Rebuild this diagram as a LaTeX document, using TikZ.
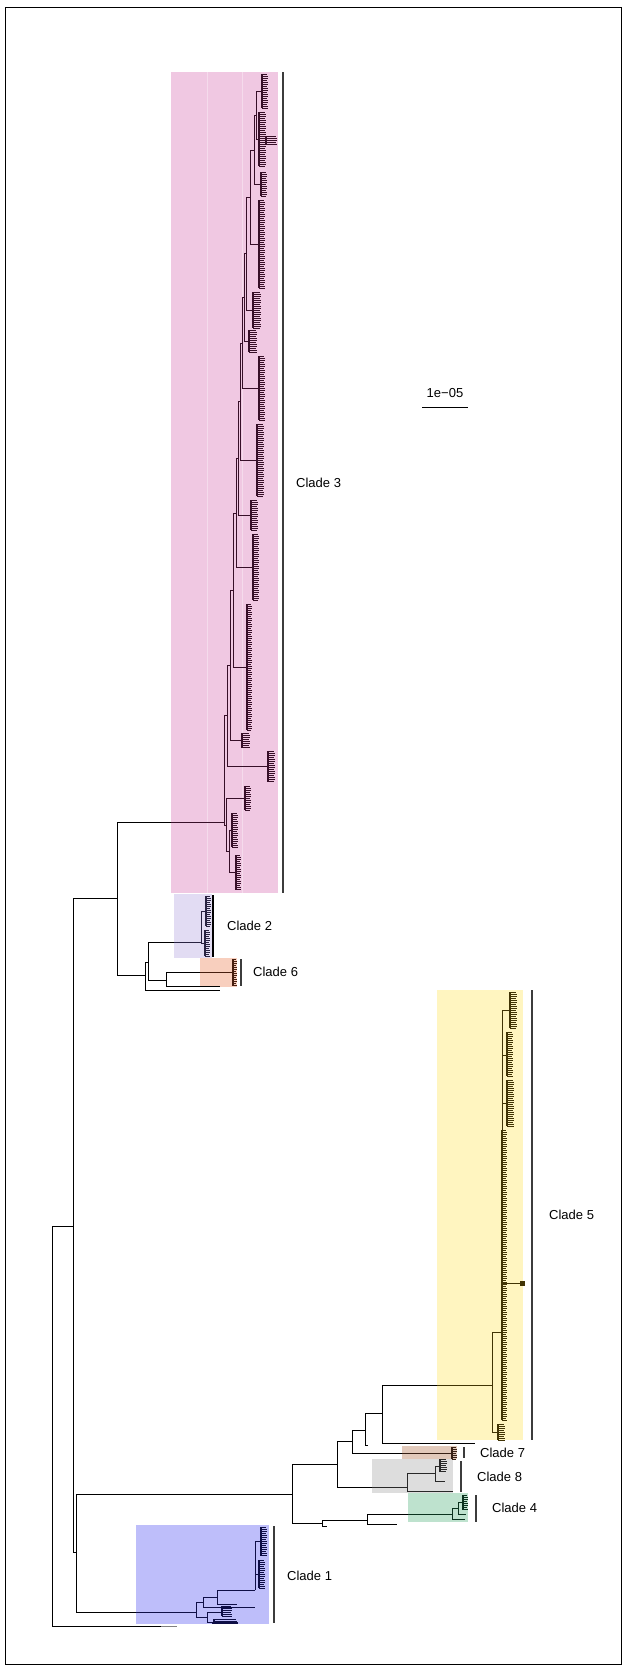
\documentclass[tikz,border=0pt]{standalone}
\usepackage{fontspec}
\setmainfont{Liberation Sans}
\definecolor{fillthree}{RGB}{240,200,226}
\definecolor{filltwo}{RGB}{226,220,243}
\definecolor{fillsix}{RGB}{248,207,190}
\definecolor{fillfive}{RGB}{255,245,192}
\definecolor{fillseven}{RGB}{226,201,186}
\definecolor{filleight}{RGB}{221,221,221}
\definecolor{fillfour}{RGB}{190,226,206}
\definecolor{fillone}{RGB}{190,190,250}
\definecolor{linethree}{RGB}{55,15,40}
\definecolor{linetwo}{RGB}{40,35,65}
\definecolor{linesix}{RGB}{70,30,15}
\definecolor{linefive}{RGB}{65,52,5}
\definecolor{lineseven}{RGB}{55,32,20}
\definecolor{lineeight}{RGB}{40,40,40}
\definecolor{linefour}{RGB}{10,50,30}
\definecolor{lineone}{RGB}{15,15,70}
\definecolor{barcol}{RGB}{60,60,60}
\tikzset{
  br/.style={line width=0.9pt,draw=black},
  brthree/.style={br,draw=linethree},
  brtwo/.style={br,draw=linetwo},
  brsix/.style={br,draw=linesix},
  brfive/.style={br,draw=linefive},
  brseven/.style={br,draw=lineseven},
  breight/.style={br,draw=lineeight},
  brfour/.style={br,draw=linefour},
  brone/.style={br,draw=lineone},
  cbar/.style={line width=1.4pt,draw=barcol},
  lab/.style={anchor=west,inner sep=0pt,font=\fontsize{13}{15}\selectfont}
}
% spine x, first y, last y, tip x
\newcommand{\tipcomb}[5][]{%
  \draw[#1,line width=1.1pt] (#2,#3) -- (#2,#4);
  \pgfmathtruncatemacro{\tcn}{(#4-#3)/2}
  \foreach \k in {0,...,\tcn}{\draw[#1,line width=0.75pt] (#2,{#3+\k*2}) -- ({#5+mod(\k*5,3)*0.7},{#3+\k*2});}
}
% node x, upper y, lower y, upper child x, lower child x
\newcommand{\junc}[6][]{\draw[#1] (#5,#3) -- (#2,#3) -- (#2,#4) -- (#6,#4);}
\begin{document}
\begin{tikzpicture}[x=1pt,y=-1pt]
  \useasboundingbox (0,0) rectangle (624,1668);
  \draw[line width=1pt] (5,7) rectangle (621,1664);

  % clade highlights
  \fill[fillthree] (171,72) rectangle (278,893);
  \draw[white,opacity=0.35,line width=0.8pt] (207,72) -- (207,893) (242,72) -- (242,893);
  \fill[filltwo] (174,894) rectangle (212,958);
  \fill[fillsix] (200,958) rectangle (237,987);
  \fill[fillfive] (437,990) rectangle (523,1440);
  \fill[fillseven] (402,1446) rectangle (457,1459);
  \fill[filleight] (372,1459) rectangle (453,1493);
  \fill[fillfour] (408,1493) rectangle (468,1522);
  \fill[fillone] (136,1525) rectangle (269,1624);

  % backbone
  \draw[br] (73,1226) -- (52,1226) -- (52,1626) -- (161,1626);
  \draw[br,draw=gray] (161,1626) -- (177,1626);
  \draw[br] (117,898) -- (73,898) -- (73,1552) -- (76,1552);
  \draw[br] (171,822) -- (117,822) -- (117,975) -- (145,975);
  \draw[brthree] (171,822) -- (224,822);
  \draw[br] (148,962) -- (145,962) -- (145,990) -- (220,990);
  \draw[br] (174,942) -- (148,942) -- (148,980) -- (166,980);
  \draw[brtwo] (174,942) -- (201,942);
  \draw[br] (200,972) -- (166,972) -- (166,986) -- (220,986);
  \draw[brsix] (200,972) -- (233,972);

  % clade 6 and clade 2
  \tipcomb[brsix]{233}{959}{986}{236}
  \junc[brtwo]{201}{911}{943}{206}{205}
  \tipcomb[brtwo]{206}{896}{926}{210}
  \tipcomb[brtwo]{205}{930}{956}{209}

  % clade 3
  \tipcomb[brthree]{262}{74}{108}{267}
  \tipcomb[brthree]{259}{112}{166}{265}
  \draw[brthree] (259,140) -- (266,140);
  \tipcomb[brthree]{266}{136}{144}{276}
  \tipcomb[brthree]{261}{172}{196}{266}
  \tipcomb[brthree]{259}{200}{288}{264}
  \tipcomb[brthree]{253}{292}{328}{260}
  \tipcomb[brthree]{249}{330}{352}{256}
  \tipcomb[brthree]{259}{356}{420}{264}
  \tipcomb[brthree]{257}{424}{496}{263}
  \tipcomb[brthree]{251}{500}{530}{257}
  \tipcomb[brthree]{253}{534}{600}{258}
  \tipcomb[brthree]{247}{604}{730}{251}
  \tipcomb[brthree]{242}{733}{748}{249}
  \tipcomb[brthree]{268}{751}{782}{274}
  \tipcomb[brthree]{245}{786}{810}{250}
  \tipcomb[brthree]{232}{813}{847}{237}
  \tipcomb[brthree]{236}{855}{890}{240}
  \junc[brthree]{256}{91}{139}{262}{259}
  \junc[brthree]{254}{115}{184}{256}{261}
  \junc[brthree]{250}{150}{244}{254}{259}
  \junc[brthree]{246}{197}{310}{250}{253}
  \junc[brthree]{244}{253}{341}{246}{249}
  \junc[brthree]{242}{297}{388}{244}{259}
  \junc[brthree]{240}{343}{460}{242}{257}
  \junc[brthree]{238}{401}{515}{240}{251}
  \junc[brthree]{236}{458}{567}{238}{253}
  \junc[brthree]{233}{513}{667}{236}{247}
  \junc[brthree]{230}{590}{740}{233}{242}
  \junc[brthree]{227}{665}{766}{230}{268}
  \junc[brthree]{229}{830}{872}{232}{236}
  \junc[brthree]{226}{798}{851}{245}{229}
  \junc[brthree]{224}{715}{825}{227}{226}

  % lower group
  \draw[br] (292,1494) -- (76,1494) -- (76,1612) -- (136,1612);
  \draw[brone] (136,1612) -- (196,1612);
  \draw[br] (337,1464) -- (292,1464) -- (292,1523) -- (322,1523);
  \draw[br] (367,1520) -- (322,1520) -- (322,1526) -- (327,1526);
  \draw[br] (408,1514) -- (367,1514) -- (367,1524) -- (397,1524);
  \draw[brfour] (408,1514) -- (452,1514);
  \draw[br] (352,1441) -- (337,1441) -- (337,1487) -- (372,1487);
  \draw[breight] (372,1487) -- (407,1487);
  \draw[br] (365,1430) -- (352,1430) -- (352,1453) -- (402,1453);
  \draw[brseven] (402,1453) -- (452,1453);
  \draw[br] (382,1413) -- (365,1413) -- (365,1445) -- (368,1445);
  \draw[br] (437,1385) -- (382,1385) -- (382,1443) -- (475,1443);
  \draw[brfive] (437,1385) -- (492,1385);

  % clade 4
  \junc[brfour]{452}{1508}{1519}{458}{465}
  \junc[brfour]{458}{1502}{1514}{463}{466}
  \tipcomb[brfour]{463}{1495}{1510}{467}

  % clade 8
  \junc[breight]{407}{1473}{1491}{435}{453}
  \junc[breight]{435}{1466}{1481}{440}{445}
  \tipcomb[breight]{440}{1459}{1472}{446}

  % clade 7
  \tipcomb[brseven]{452}{1447}{1459}{456}

  % clade 5
  \junc[brfive]{492}{1332}{1432}{502}{498}
  \tipcomb[brfive]{498}{1424}{1440}{504}
  \draw[brfive] (502,1010) -- (502,1420);
  \tipcomb[brfive]{502}{1130}{1420}{506}
  \draw[brfive] (502,1010) -- (510,1010);
  \tipcomb[brfive]{510}{992}{1028}{516}
  \draw[brfive] (502,1055) -- (507,1055);
  \tipcomb[brfive]{507}{1032}{1076}{512}
  \draw[brfive] (502,1103) -- (507,1103);
  \tipcomb[brfive]{507}{1080}{1126}{513}
  \draw[brfive] (502,1283) -- (522,1283);
  \fill[linefive] (519.5,1280.5) rectangle (524.5,1285.5);

  % clade 1
  \junc[brone]{196}{1602}{1617}{203}{207}
  \junc[brone]{203}{1597}{1607}{217}{255}
  \junc[brone]{217}{1590}{1604}{255}{237}
  \junc[brone]{255}{1541}{1590}{261}{255}
  \draw[brone] (255,1574) -- (259,1574);
  \tipcomb[brone]{261}{1527}{1556}{266}
  \tipcomb[brone]{259}{1560}{1588}{264}
  \junc[brone]{207}{1612}{1622}{222}{214}
  \tipcomb[brone]{222}{1606}{1616}{231}
  \tipcomb[brone]{214}{1619}{1624}{236}
  \draw[brone,line width=1.4pt] (212,1623) -- (238,1623);

  % clade bars and labels
  \draw[cbar] (283,72) -- (283,893);
  \node[lab] (lab3) at (296,483) {Clade 3};
  \draw[cbar,draw=black] (213,895) -- (213,957);
  \node[lab] (lab2) at (227,926) {Clade 2};
  \draw[cbar] (241,959) -- (241,986);
  \node[lab] (lab6) at (253,972) {Clade 6};
  \draw[cbar] (532,990) -- (532,1440);
  \node[lab] (lab5) at (549,1215) {Clade 5};
  \draw[cbar] (464,1447) -- (464,1458);
  \node[lab] (lab7) at (480,1453) {Clade 7};
  \draw[cbar] (461,1461) -- (461,1492);
  \node[lab] (lab8) at (477,1477) {Clade 8};
  \draw[cbar] (476,1495) -- (476,1522);
  \node[lab] (lab4) at (492,1508) {Clade 4};
  \draw[cbar] (274,1526) -- (274,1623);
  \node[lab] (lab1) at (287,1576) {Clade 1};

  % scale
  \draw[br] (422,407) -- (468,407);
  \node[lab,anchor=center] (scale) at (445,393) {1e−05};
\end{tikzpicture}
\end{document}
